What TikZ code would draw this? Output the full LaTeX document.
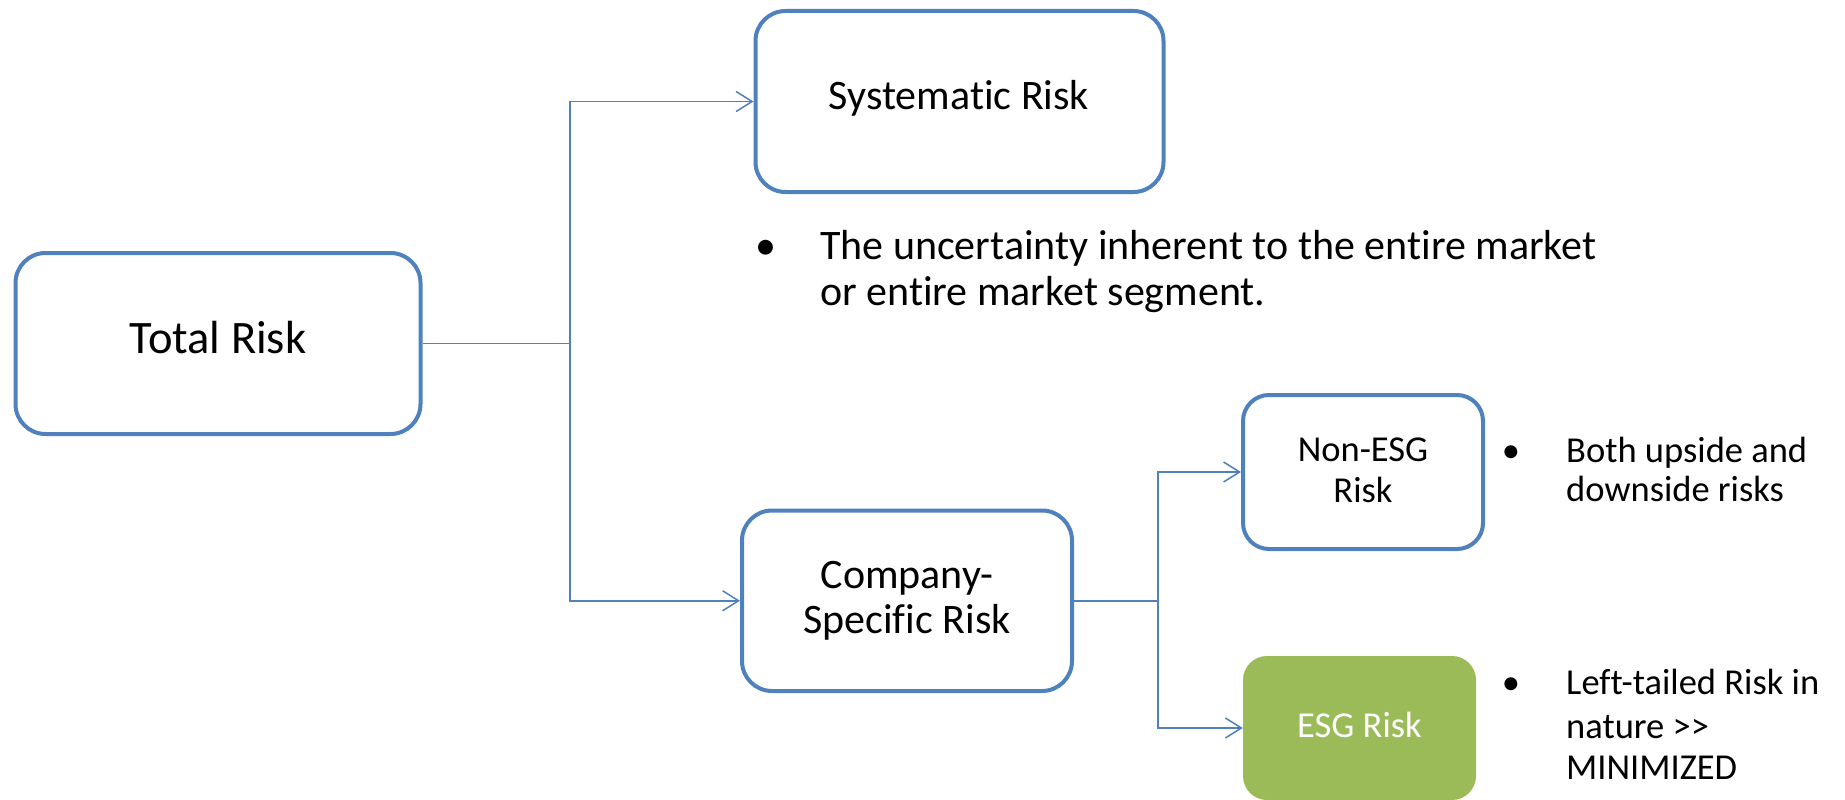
\documentclass[tikz,border=0pt]{standalone}
\usepackage{fontspec}
\setmainfont{Carlito}[Ligatures=NoCommon]
\usetikzlibrary{arrows.meta}
\definecolor{accblue}{HTML}{4F81BD}
\definecolor{accgreen}{HTML}{9BBB59}
\begin{document}
\begin{tikzpicture}[x=1pt,y=-1pt,
  box/.style={draw=accblue, line width=4pt, rounded corners=#1, fill=white, inner sep=0pt},
  box/.default=30pt,
  greenbox/.style={fill=accgreen, draw=none, rounded corners=24pt, inner sep=0pt},
  conn/.style={draw=accblue, line width=1.5pt},
  arr/.style={-{Straight Barb[length=16pt,width=20pt]}},
  txt/.style={inner sep=0pt, anchor=base, text=black},
  tbig/.style={txt, font=\fontsize{46.5}{52}\selectfont},
  tmid/.style={txt, font=\fontsize{42}{46}\selectfont},
  tsml/.style={txt, font=\fontsize{36.5}{41}\selectfont},
]
\fill[white] (0,0) rectangle (1845,800);
\useasboundingbox (0,0) rectangle (1845,800);

% boxes
\node[box, minimum width=405pt, minimum height=181pt] (total) at (218,343.5) {};
\node[box, minimum width=408pt, minimum height=181pt] (sys) at (959.5,101.5) {};
\node[box, minimum width=330pt, minimum height=180.5pt] (comp) at (907,600.75) {};
\node[box=26pt, minimum width=240pt, minimum height=154pt] (nesg) at (1363,472) {};
\node[greenbox, minimum width=233pt, minimum height=144pt] (esg) at (1359.5,728) {};

% box texts
\node[tbig] (totalt) at (218,353) {Total Risk};
\node[tmid] (syst) at (959,110) {Systematic Risk};
\node[tmid] (compt1) at (907,588) {Company-};
\node[tmid] (compt2) at (907,633) {Specific Risk};
\node[tsml] (nesgt1) at (1363,461) {Non-ESG};
\node[tsml] (nesgt2) at (1363,502) {Risk};
\node[tsml, text=white] (esgt) at (1359.5,737) {ESG Risk};

% bullet texts
\node[tmid] (dot1) at (766,259) {•};
\node[tmid, anchor=base west] (b1a) at (820,259) {The uncertainty inherent to the entire market};
\node[tmid, anchor=base west] (b1b) at (820,305) {or entire market segment.};
\node[tsml] (dot2) at (1511,462) {•};
\node[tsml, anchor=base west] (b2a) at (1566,462) {Both upside and};
\node[tsml, anchor=base west] (b2b) at (1566,501) {downside risks};
\node[tsml] (dot3) at (1511,694) {•};
\node[tsml, anchor=base west] (b3a) at (1566,694) {Left-tailed Risk in};
\node[tsml, anchor=base west] (b3b) at (1566,738) {nature >{}>};
\node[tsml, anchor=base west] (b3c) at (1566,779) {MINIMIZED};

% connectors
\coordinate (j1) at (570,343.5);
\coordinate (j2) at (1158,600.75);
\draw[conn] (total.east) -- (j1);
\draw[conn,arr] (j1) |- (sys.west);
\draw[conn,arr] (j1) |- (comp.west);
\draw[conn] (comp.east) -- (j2);
\draw[conn,arr] (j2) |- (nesg.west);
\draw[conn,arr] (j2) |- (esg.west);
\end{tikzpicture}
\end{document}
